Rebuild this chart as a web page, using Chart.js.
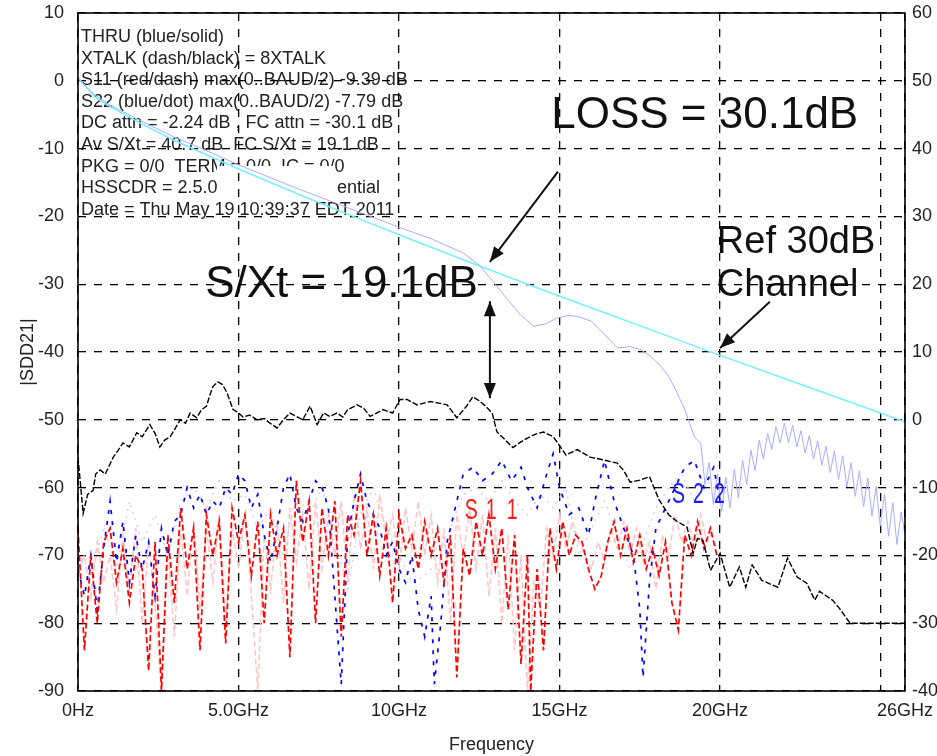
<!DOCTYPE html>
<html lang="en">
<head>
<meta charset="UTF-8">
<title>SDD21 Thru / Xtalk</title>
<script src="https://cdn.jsdelivr.net/npm/chart.js"></script>
<style>
    html, body { margin: 0; padding: 0; background: #fff; }
    #wrap { width: 937px; height: 756px; }
</style>
</head>
<body>
<div id="wrap"><canvas id="sdd21"></canvas></div>
<script>
// axis setup
const freqTicks = [0, 5, 10, 15, 20, 25, 25.76];
const freqTickLabels = ['0Hz', '5.0GHz', '10GHz', '15GHz', '20GHz', '', '26GHz'];
const leftRange = [-90, 10];
const rightRange = [-40, 60];

// [GHz, dB]
const refChannel = [[0,0.5],[0.5,-2.3],[1,-3.8],[2,-6.4],[3,-8.8],[4,-10.9],[5,-13.0],[6,-15.0],[7,-17.0],[8,-18.9],[9,-20.8],[10,-22.7],[12,-26.4],[14,-30.0],[16,-33.5],[18,-37.0],[20,-40.5],[22,-43.9],[24,-47.3],[25.76,-50.3]];

const thru = [[0,0.3],[0.5,-2.0],[1,-3.6],[2,-6.0],[3,-8.3],[4,-10.3],[5,-12.4],[6,-14.3],[7,-16.2],[8,-18.0],[9,-19.8],[10,-21.6],[11,-23.3],[12,-25.4],[12.5,-27.2],[13,-30.0],[13.4,-32.4],[13.8,-34.6],[14.2,-36.2],[14.6,-35.8],[14.9,-35.0],[15.3,-34.6],[15.6,-34.8],[16.0,-35.5],[16.4,-37.4],[16.8,-39.4],[17.2,-39.2],[17.5,-39.6],[17.8,-40.5],[18.1,-41.8],[18.4,-43.6],[18.6,-45.4],[18.9,-48.5],[19.2,-52.5],
    [19.40,-53.5],[19.53,-59.5],[19.66,-56.3],[19.79,-62.5],[19.92,-58],[20.05,-63.5],[20.18,-58.5],[20.31,-63],[20.44,-57.3],[20.57,-61.5],[20.70,-56],[20.83,-59.5],[20.96,-54.5],[21.09,-57.5],[21.22,-53],[21.35,-55.8],[21.48,-52],[21.61,-54.4],[21.74,-51],[21.87,-53.4],[22.00,-50.5],[22.13,-53.4],[22.26,-50.8],[22.39,-54],[22.52,-51.6],[22.65,-54.9],[22.78,-52.3],[22.91,-55.8],[23.04,-53.1],[23.17,-56.7],[23.30,-53.9],[23.43,-57.8],[23.56,-54.6],[23.69,-58.8],[23.82,-55.3],[23.95,-59.9],[24.08,-56.3],[24.21,-61.3],[24.34,-57.5],[24.47,-62.8],[24.60,-58.6],[24.73,-64.2],[24.86,-59.8],[24.99,-65.7],[25.12,-61],[25.25,-67.2],[25.38,-62.2],[25.51,-68.4],[25.64,-63.6],[25.76,-67]];

const xtalk = [[0,-55.5],[0.16,-63.8],[0.3,-61],[0.47,-60.4],[0.55,-58],[0.69,-57.4],[0.85,-58],[1.1,-55.5],[1.25,-54.5],[1.4,-53.4],[1.6,-54],[1.83,-51.9],[2.0,-52.5],[2.24,-50.7],[2.4,-52],[2.55,-54],[2.7,-53],[2.87,-52.5],[3.0,-51.5],[3.18,-50],[3.35,-50.5],[3.49,-49],[3.7,-49.7],[3.85,-48.5],[4.0,-48],[4.1,-46.5],[4.2,-45.1],[4.36,-44.4],[4.5,-44.8],[4.64,-46],[4.83,-48.5],[5.0,-49],[5.14,-49.6],[5.35,-49.3],[5.58,-50],[5.8,-49.8],[5.98,-50.5],[6.2,-51.2],[6.4,-50],[6.6,-49],[6.8,-49.5],[7.0,-50],[7.23,-48],[7.45,-50.7],[7.65,-49],[7.85,-49.5],[8.06,-49],[8.25,-49.6],[8.4,-48.5],[8.7,-47.8],[8.9,-48.3],[9.1,-49.5],[9.3,-49],[9.5,-48.5],[9.8,-49],[10.03,-47],[10.25,-47],[10.56,-47.8],[10.97,-47.3],[11.2,-47.5],[11.5,-47.8],[11.8,-49.7],[12.1,-48],[12.3,-46.6],[12.5,-47.2],[12.7,-48],[12.9,-49],[13.05,-51.8],[13.25,-52.7],[13.55,-54.1],[13.75,-53.4],[14.0,-52.7],[14.25,-52.1],[14.5,-51.8],[14.8,-52.5],[15.0,-53.8],[15.2,-55.2],[15.55,-54.4],[15.95,-55.5],[16.36,-55.9],[16.8,-56.4],[17.0,-57.5],[17.2,-59.2],[17.5,-58.9],[17.8,-58.4],[18.1,-61.8],[18.4,-64],[18.66,-65],[18.97,-65.8],[19.16,-69.7],[19.3,-67.5],[19.47,-67.8],[19.7,-72.2],[20,-69.7],[20.3,-74.7],[20.6,-71.7],[20.8,-74.7],[21.0,-71.4],[21.3,-73.7],[21.8,-74.7],[22.1,-70.4],[22.4,-73.2],[22.7,-74.1],[22.95,-76.6],[23.1,-75.3],[23.5,-76.6],[23.7,-77.7],[24.05,-80],[25.76,-80]];

const s11 = [[0,-66],[0.2,-84],[0.4,-70],[0.6,-80],[0.8,-68],[1.0,-66],[1.2,-74],[1.4,-69],[1.6,-77],[1.8,-70],[2.0,-72],[2.2,-87],[2.4,-68],[2.6,-90],[2.8,-67],[3.0,-77],[3.2,-63],[3.4,-72],[3.6,-66],[3.8,-84],[4.0,-64],[4.2,-70],[4.4,-65],[4.6,-83],[4.8,-63],[5.0,-68],[5.2,-64],[5.4,-73],[5.6,-65],[5.8,-80],[6.0,-64],[6.2,-70],[6.4,-66],[6.6,-85],[6.8,-59],[7.0,-68],[7.2,-62],[7.4,-80],[7.6,-63],[7.8,-70],[8.0,-62],[8.2,-82],[8.4,-64],[8.6,-67],[8.8,-59],[9.0,-70],[9.2,-64],[9.4,-73],[9.6,-66],[9.8,-77],[10.0,-64],[10.2,-69],[10.4,-67],[10.6,-72],[10.8,-65],[11.0,-70],[11.2,-66],[11.4,-74],[11.6,-67],[11.8,-88],[12.0,-69],[12.2,-73],[12.4,-65],[12.6,-70],[12.8,-64],[13.0,-72],[13.2,-66],[13.4,-78],[13.6,-67],[13.8,-86],[14.0,-70],[14.1,-90],[14.3,-72],[14.5,-84],[14.7,-66],[14.9,-72],[15.1,-65],[15.3,-70],[15.5,-67],[15.7,-68],[15.9,-72],[16.1,-75],[16.3,-73],[16.5,-68],[16.7,-65],[16.9,-70],[17.1,-66],[17.3,-71],[17.5,-67],[17.7,-72],[17.9,-69],[18.1,-73],[18.3,-68],[18.5,-77],[18.7,-81],[18.9,-67],[19.1,-70],[19.3,-65],[19.5,-69],[19.7,-66],[19.9,-70]];

const s11Alt = [[0,-72],[0.2,-70],[0.4,-76],[0.6,-68],[0.8,-74],[1.0,-70],[1.2,-78],[1.4,-67],[1.6,-75],[1.8,-66],[2.0,-80],[2.2,-68],[2.4,-77],[2.6,-90],[2.8,-69],[3.0,-82],[3.2,-66],[3.4,-76],[3.6,-65],[3.8,-78],[4.0,-66],[4.2,-74],[4.4,-64],[4.6,-80],[4.8,-66],[5.0,-72],[5.2,-64],[5.4,-76],[5.6,-90],[5.8,-67],[6.0,-75],[6.2,-65],[6.4,-77],[6.6,-63],[6.8,-71],[7.0,-64],[7.2,-75],[7.4,-62],[7.6,-72],[7.8,-64],[8.0,-70],[8.2,-62],[8.4,-74],[8.6,-61],[8.8,-69],[9.0,-63],[9.2,-72],[9.4,-61],[9.6,-68],[9.8,-64],[10.0,-72],[10.2,-63],[10.4,-69],[10.6,-62],[10.8,-70],[11.0,-64],[11.2,-74],[11.4,-66],[11.6,-80],[11.8,-64],[12.0,-70],[12.2,-63],[12.4,-72],[12.6,-64],[12.8,-76],[13.0,-66],[13.2,-80],[13.4,-67],[13.6,-84],[13.8,-70],[14.0,-90],[14.2,-74],[14.4,-78],[14.6,-66],[14.8,-70],[15.0,-64],[15.2,-69],[15.4,-65],[15.6,-68],[15.8,-70],[16.0,-72],[16.2,-68],[16.4,-71],[16.6,-66],[16.8,-69],[17.0,-65],[17.2,-70],[17.4,-66],[17.6,-71],[17.8,-68],[18.0,-75],[18.2,-67],[18.4,-70],[18.6,-64],[18.8,-68],[19.0,-65],[19.2,-69],[19.4,-64],[19.6,-68],[19.8,-66]];

const s22 = [[0,-72],[0.2,-76],[0.4,-70],[0.6,-78],[0.8,-69],[1.0,-62],[1.2,-71],[1.4,-65],[1.6,-74],[1.8,-67],[2.0,-72],[2.2,-68],[2.4,-76],[2.6,-66],[2.8,-70],[3.0,-65],[3.2,-64],[3.4,-60],[3.6,-63],[3.8,-61],[4.0,-64],[4.2,-62],[4.4,-63],[4.6,-60],[4.8,-61],[5.0,-58],[5.2,-59],[5.4,-63],[5.6,-61],[5.8,-67],[6.0,-71],[6.2,-66],[6.4,-60],[6.6,-58],[6.8,-63],[7.0,-65],[7.2,-62],[7.4,-59],[7.6,-60],[7.8,-63],[8.0,-76],[8.2,-89],[8.4,-67],[8.6,-62],[8.8,-58],[9.0,-62],[9.2,-64],[9.4,-66],[9.6,-70],[9.8,-68],[10.0,-72],[10.2,-74],[10.4,-70],[10.6,-78],[10.8,-82],[11.0,-76],[11.1,-89],[11.3,-80],[11.5,-68],[11.8,-62],[12.0,-58],[12.3,-57],[12.6,-59],[12.9,-58],[13.2,-56],[13.5,-59],[13.8,-57],[14.0,-60],[14.3,-63],[14.6,-58],[14.8,-55],[15.0,-60],[15.3,-64],[15.6,-63],[15.9,-67],[16.1,-62],[16.4,-56],[16.7,-62],[17.0,-66],[17.3,-70],[17.5,-78],[17.6,-88],[17.8,-74],[18.0,-66],[18.3,-63],[18.6,-60],[18.9,-57],[19.2,-56],[19.5,-60],[19.8,-57],[20.0,-62]];

const s22Alt = [[0,-70],[0.4,-73],[0.8,-66],[1.2,-72],[1.6,-62],[2.0,-68],[2.4,-64],[2.8,-70],[3.2,-62],[3.6,-60],[4.0,-63],[4.4,-59],[4.8,-62],[5.2,-61],[5.6,-66],[6.0,-63],[6.4,-70],[6.8,-61],[7.2,-64],[7.6,-60],[8.0,-67],[8.4,-75],[8.8,-64],[9.2,-60],[9.6,-66],[10.0,-70],[10.4,-74],[10.8,-73],[11.2,-71],[11.6,-66],[12.0,-61],[12.4,-60],[12.8,-62],[13.2,-59],[13.6,-62],[14.0,-64],[14.4,-61],[14.8,-63],[15.2,-60],[15.6,-70],[16.0,-66],[16.4,-62],[16.8,-67],[17.2,-72],[17.6,-68],[18.0,-63],[18.4,-60],[18.8,-58],[19.2,-62],[19.6,-59],[20.0,-61]];

// visible parts of the info block (the middle of two lines is blanked out)
const infoLines = [
    'THRU (blue/solid)',
    'XTALK (dash/black) = 8XTALK',
    'S11 (red/dash) max(0..BAUD/2) -9.39 dB',
    'S22 (blue/dot) max(0..BAUD/2) -7.79 dB',
    'DC attn = -2.24 dB , FC attn = -30.1 dB',
    'Av S/Xt = 40.7 dB  FC S/Xt = 19.1 dB',
    'PKG = 0/0  TERM = 0/0  IC = 0/0',
    'HSSCDR = 2.5.0',
    'Date = Thu May 19 10:39:37 EDT 2011'
];
const infoTail = 'ential';

const toXY = pairs => pairs.map(([x, y]) => ({ x, y }));

function arrowHead(ctx, x1, y1, x2, y2) {
    const a = Math.atan2(y2 - y1, x2 - x1);
    const len = 15, w = 6;
    ctx.beginPath();
    ctx.moveTo(x2, y2);
    ctx.lineTo(x2 - len * Math.cos(a) + w * Math.sin(a), y2 - len * Math.sin(a) - w * Math.cos(a));
    ctx.lineTo(x2 - len * Math.cos(a) - w * Math.sin(a), y2 - len * Math.sin(a) + w * Math.cos(a));
    ctx.closePath();
    ctx.fill();
}

function arrow(ctx, x1, y1, x2, y2, both) {
    ctx.beginPath();
    ctx.moveTo(x1, y1);
    ctx.lineTo(x2, y2);
    ctx.stroke();
    arrowHead(ctx, x1, y1, x2, y2);
    if (both) arrowHead(ctx, x2, y2, x1, y1);
}

const annotations = {
    id: 'annotations',
    beforeDraw(chart) {
        const { ctx, chartArea: a, scales: { x, y } } = chart;
        ctx.save();
        ctx.fillStyle = '#222';
        ctx.font = '18px "Liberation Sans", Arial, sans-serif';
        ctx.textBaseline = 'alphabetic';
        infoLines.forEach((t, i) => ctx.fillText(t, a.left + 3, a.top + 29 + i * 21.6));
        ctx.fillText(infoTail, 337, a.top + 29 + 7 * 21.6);
        // blanked part of the info block
        ctx.fillStyle = '#fff';
        ctx.fillRect(217, a.top + 153, 118, 33);

        ctx.fillStyle = '#111';
        ctx.font = '44px "Liberation Sans", Arial, sans-serif';
        ctx.fillText('LOSS = 30.1dB', x.getPixelForValue(14.74), y.getPixelForValue(-7.0));
        ctx.fillText('S/Xt = 19.1dB', x.getPixelForValue(3.96), y.getPixelForValue(-31.9));
        ctx.font = '38px "Liberation Sans", Arial, sans-serif';
        ctx.fillText('Ref 30dB', x.getPixelForValue(19.9), y.getPixelForValue(-25.4));
        ctx.fillText('Channel', x.getPixelForValue(19.9), y.getPixelForValue(-31.7));
        ctx.restore();
    },
    afterDraw(chart) {
        const { ctx, chartArea: a, scales: { x, y } } = chart;
        ctx.save();
        ctx.setLineDash([]);
        ctx.strokeStyle = '#000';
        ctx.lineWidth = 1.6;
        ctx.strokeRect(a.left, a.top, a.right - a.left, a.bottom - a.top);

        ctx.fillStyle = '#111';
        ctx.strokeStyle = '#111';
        ctx.lineWidth = 2;
        const px = (f, v) => [x.getPixelForValue(f), y.getPixelForValue(v)];
        arrow(ctx, ...px(14.95, -13.4), ...px(12.83, -26.7), false);
        arrow(ctx, ...px(12.83, -32.5), ...px(12.83, -46.8), true);
        arrow(ctx, ...px(21.55, -32.6), ...px(20.0, -39.4), false);

        // curve labels
        const label = (txt, f, v, color) => {
            const [lx, ly] = px(f, v);
            ctx.fillStyle = color;
            ctx.font = '30px "Liberation Sans", Arial, sans-serif';
            [...txt].forEach((c, i) => {
                ctx.save();
                ctx.translate(lx + i * 21, ly);
                ctx.scale(0.65, 1);
                ctx.fillText(c, 0, 0);
                ctx.restore();
            });
        };
        label('S11', 12.05, -64.6, '#ff1a1a');
        label('S22', 18.5, -62.3, '#1a1aff');

        // axis titles
        ctx.fillStyle = '#222';
        ctx.font = '18px "Liberation Sans", Arial, sans-serif';
        ctx.textAlign = 'center';
        ctx.fillText('Frequency', (a.left + a.right) / 2, 750);
        ctx.translate(33, (a.top + a.bottom) / 2);
        ctx.rotate(-Math.PI / 2);
        ctx.fillText('|SDD21|', 0, 0);
        ctx.restore();
    }
};

const tickFont = { family: '"Liberation Sans", Arial, sans-serif', size: 18 };
const hiddenTick = 'rgba(0,0,0,0)';

new Chart(document.getElementById('sdd21'), {
    type: 'line',
    data: {
        datasets: [
            { label: 'XTALK', data: toXY(xtalk), borderColor: '#000', borderWidth: 1.4, borderDash: [6, 2] },
            { label: 'S11', data: toXY(s11), borderColor: '#ff0000', borderWidth: 1.7, borderDash: [6, 3] },
            { label: 'S22', data: toXY(s22), borderColor: '#0000ff', borderWidth: 1.7, borderDash: [4, 7] },
            { label: 'S11b', data: toXY(s11Alt), borderColor: '#ffc4c4', borderWidth: 1.5, borderDash: [6, 3] },
            { label: 'S22b', data: toXY(s22Alt), borderColor: '#cfd0ff', borderWidth: 1.5, borderDash: [2, 5] },
            { label: 'THRU', data: toXY(thru), borderColor: '#a9adff', borderWidth: 1 },
            { label: 'Ref', data: toXY(refChannel), borderColor: '#74f2ff', borderWidth: 1.5 }
        ]
    },
    options: {
        responsive: true,
        maintainAspectRatio: false,
        devicePixelRatio: 1,
        animation: false,
        layout: { padding: { top: 13, left: 0, right: 0, bottom: 0 } },
        elements: { point: { radius: 0 }, line: { tension: 0 } },
        plugins: { legend: { display: false }, tooltip: { enabled: false } },
        scales: {
            x: {
                type: 'linear',
                min: 0,
                max: 25.76,
                afterBuildTicks: s => { s.ticks = freqTicks.map(v => ({ value: v })); },
                afterFit: s => { s.height = 65; },
                ticks: { autoSkip: false, maxRotation: 0, padding: 0, color: '#222', font: tickFont,
                    callback: (v, i) => freqTickLabels[i] },
                grid: { color: '#000', lineWidth: 1.3, drawTicks: true, tickLength: 9, tickColor: hiddenTick },
                border: { display: false, dash: [8, 8] }
            },
            y: {
                position: 'left',
                min: leftRange[0],
                max: leftRange[1],
                afterFit: s => { s.width = 78; },
                ticks: { stepSize: 10, padding: 0, color: '#222', font: tickFont },
                grid: { color: '#000', lineWidth: 1.3, drawTicks: true, tickLength: 14, tickColor: hiddenTick },
                border: { display: false, dash: [8, 8] }
            },
            y2: {
                position: 'right',
                min: rightRange[0],
                max: rightRange[1],
                afterFit: s => { s.width = 32; },
                ticks: { stepSize: 10, padding: 0, color: '#222', font: tickFont },
                grid: { drawOnChartArea: false, drawTicks: true, tickLength: 7, tickColor: hiddenTick },
                border: { display: false }
            }
        }
    },
    plugins: [annotations]
});
</script>
</body>
</html>
